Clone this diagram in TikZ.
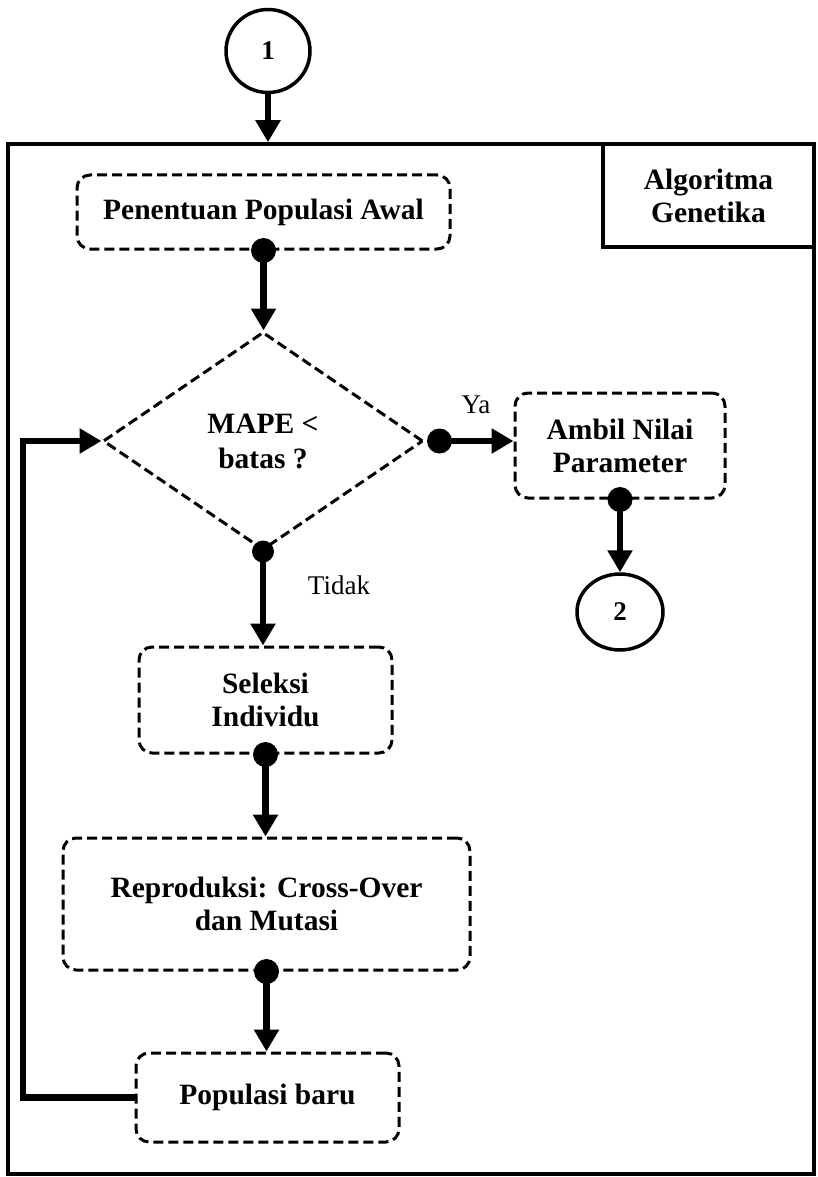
\documentclass[tikz,border=0pt]{standalone}
\usepackage{fontspec}
\setmainfont{Liberation Serif}
\usetikzlibrary{shapes.geometric,arrows.meta}

\tikzset{
  stepbox/.style={draw, line width=3, dash pattern=on 10 off 5, rounded corners=13,
    align=center, font=\fontsize{29.5}{33}\selectfont\bfseries, inner sep=0},
  decision/.style={draw, diamond, line width=3, dash pattern=on 10 off 5,
    align=center, font=\fontsize{29.5}{35}\selectfont\bfseries, inner sep=0},
  connector/.style={draw, ellipse, line width=3.5, inner sep=0,
    font=\fontsize{27}{30}\selectfont\bfseries},
  flow/.style={line width=6.5, -{Triangle[width=24,length=22]}},
  knob/.style={fill=black},
  branch/.style={font=\fontsize{27}{30}\selectfont},
}

\begin{document}
\begin{tikzpicture}[x=1pt,y=-1pt]
\useasboundingbox (0,0) rectangle (818,1177);

% outer frame and its title box
\node[draw, line width=3.5, minimum width=806, minimum height=1030, inner sep=0] (frame) at (411,659) {};
\node[draw, line width=3.5, minimum width=211, minimum height=103, inner sep=0,
  align=center, font=\fontsize{29.5}{33}\selectfont\bfseries] (title) at (708.5,195.5) {Algoritma\\Genetika};

% off-page connectors
\node[connector, minimum width=84, minimum height=83] (one) at (268,51) {1};
\node[connector, minimum width=86, minimum height=76] (two) at (620,612) {2};

% process steps
\node[stepbox, minimum width=373, minimum height=74] (pen) at (263.5,212) {Penentuan Populasi Awal};
\node[decision, minimum width=320, minimum height=218, aspect=1.47] (dec) at (263,441) {MAPE <\\batas ?};
\node[stepbox, minimum width=210, minimum height=105] (ambil) at (620,445.5) {Ambil Nilai\\Parameter};
\node[stepbox, minimum width=253, minimum height=106] (sel) at (265.5,700) {Seleksi\\Individu};
\node[stepbox, minimum width=407, minimum height=132] (rep) at (266.5,904) {Reproduksi: Cross-Over\\dan Mutasi};
\node[stepbox, minimum width=263, minimum height=89] (pop) at (267.5,1097.5) {Populasi baru};

% helper points
\coordinate (yes) at ([xshift=15pt]dec.east);
\coordinate (fb) at (23,1097.5);

% arrows
\draw[flow] (one.south) -- (one.south |- frame.north);
\draw[flow] (pen.south) -- (pen.south |- dec.north);
\draw[flow] (yes) -- (yes -| ambil.west);
\draw[flow] (ambil.south) -- (ambil.south |- two.north);
\draw[flow] (dec.south) -- (dec.south |- sel.north);
\draw[flow] (sel.south) -- (sel.south |- rep.north);
\draw[flow] (rep.south) -- (rep.south |- pop.north);
\draw[flow] (pop.west) -- (fb) |- (dec.west);

% junction dots
\fill[knob] (pen.south) circle (12.5);
\fill[knob] (yes) circle (12.5);
\fill[knob] (ambil.south) circle (12.5);
\fill[knob] (dec.south) circle (11);
\fill[knob] (sel.south) circle (12.5);
\fill[knob] (rep.south) circle (12.5);

% branch labels
\node[branch] (ya) at (476,405) {Ya};
\node[branch] (tidak) at (339,585) {Tidak};
\end{tikzpicture}
\end{document}
